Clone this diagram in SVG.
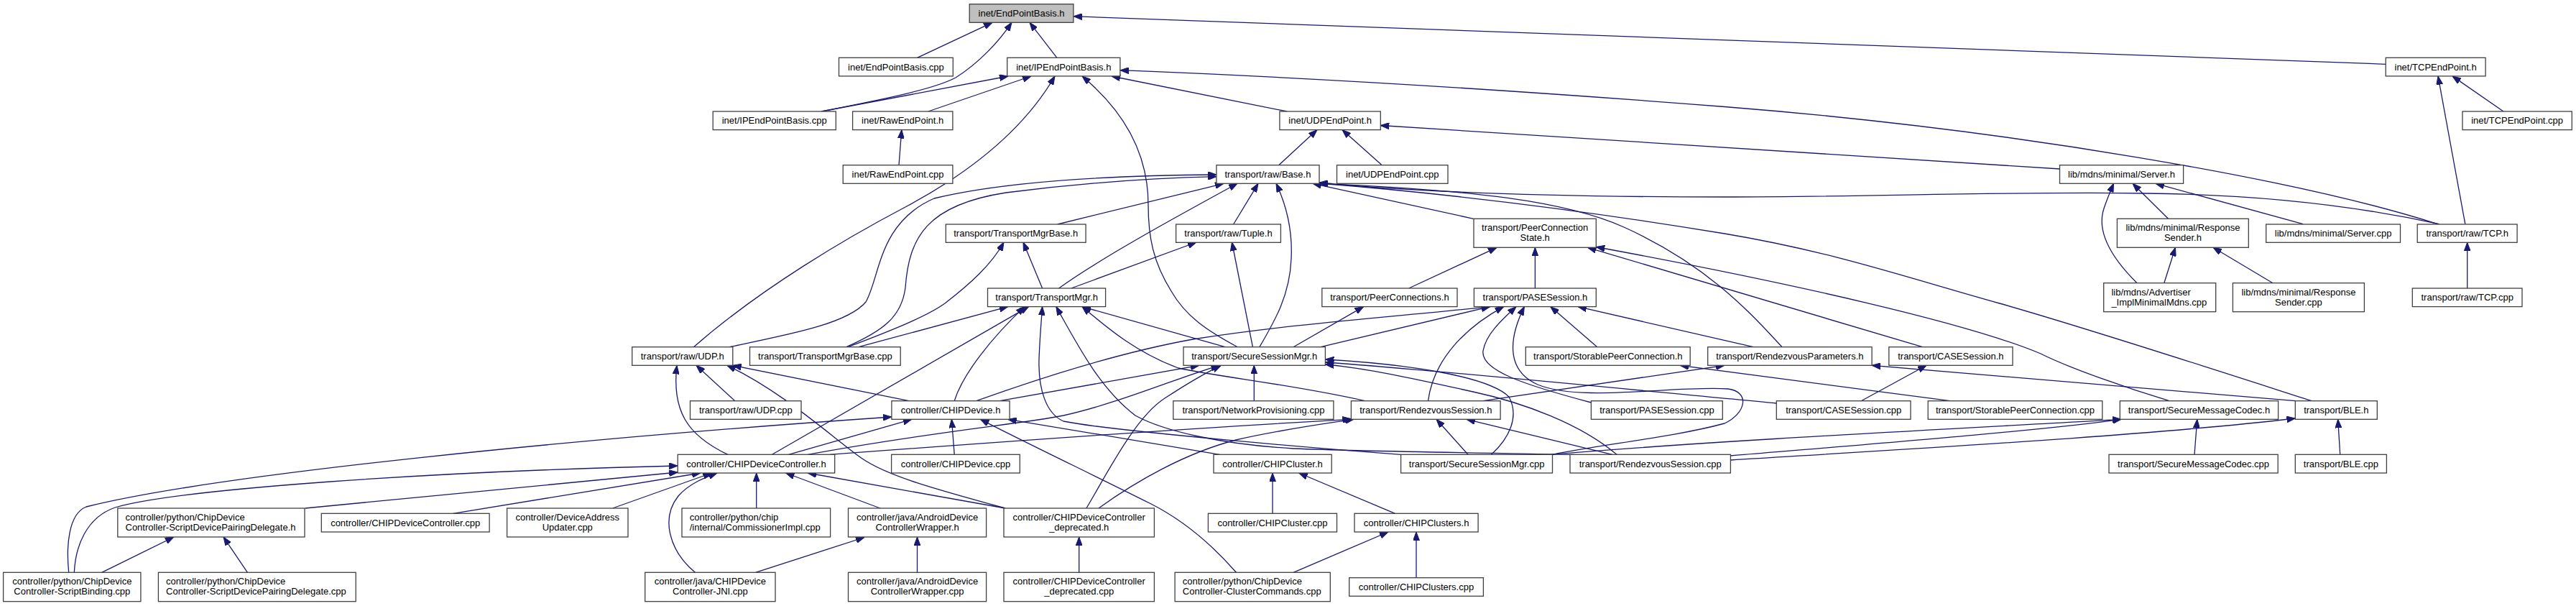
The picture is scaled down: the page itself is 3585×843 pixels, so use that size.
<svg xmlns="http://www.w3.org/2000/svg" width="3585" height="843" viewBox="0 0 3585 843">
<defs>
<style>
.node rect{fill:#ffffff;stroke:#404040;stroke-width:1.3}
.root rect{fill:#bfbfbf}
text{font-family:"Liberation Sans",Arial,Helvetica,sans-serif;font-size:13px;fill:#000000}
.c{text-anchor:middle}
.l{text-anchor:start}
#edges path{fill:none;stroke:#191970;stroke-width:1.3;marker-end:url(#arr)}
</style>
<marker id="arr" viewBox="0 0 12 9" refX="12" refY="4.5" markerWidth="12" markerHeight="9" markerUnits="userSpaceOnUse" orient="auto">
<path d="M0,0 L12,4.5 L0,9 z" fill="#191970" stroke="#191970" stroke-width="1"/>
</marker>
</defs>
<rect x="0" y="0" width="3585" height="843" fill="#ffffff"/>
<g id="edges">
<path d="M1276.5,80.3 L1381,31.3"/>
<path d="M1143.4,155 C1230,138 1300,124 1330,108 C1362,88 1390,58 1408,31.3"/>
<path d="M1143.4,155 L1403,106"/>
<path d="M1470.9,80.3 L1433,31.3"/>
<path d="M3320.2,89.3 L1494,22.7"/>
<path d="M1291.8,155 L1435,106"/>
<path d="M965.4,482.7 C1060,400 1180,330 1260,288 C1350,240 1425,180 1468,106"/>
<path d="M1722.3,482.7 C1680,460 1650,440 1630,405 C1605,365 1598,330 1598,285 C1598,215 1565,155 1506,106"/>
<path d="M1791,155 L1547,106"/>
<path d="M3392.5,311.7 C3200,250 2800,180 2400,148.5 C2100,125 1800,107 1559,97.7"/>
<path d="M1251,229.7 L1254.8,180.6"/>
<path d="M1779.7,229.7 L1833,180.6"/>
<path d="M1923.2,229.7 L1868,180.6"/>
<path d="M2866.5,235 L1921.3,174.5"/>
<path d="M1471.7,312 L1703,255.3"/>
<path d="M1473.6,401 C1530,360 1640,300 1722,255.3"/>
<path d="M1716.6,312 L1751,255.3"/>
<path d="M1752.9,482.7 C1775,445 1795,410 1797,360 C1799,320 1790,285 1776,255.3"/>
<path d="M2050.6,304.3 L1827,255.3"/>
<path d="M3394.5,311.7 C3250,280 3100,270 2985,269 C2800,266 2600,274 2400,274 C2200,274 2000,270 1836,254"/>
<path d="M3217.3,557.7 C3100,520 2900,455 2782.7,422 C2650,385 2550,350 2400,325 C2200,292 2000,268 1836,255"/>
<path d="M2480,482.7 C2440,440 2380,370 2260,316 C2180,280 2050,264 1836,255.3"/>
<path d="M1180,482.7 C1240,460 1290,440 1315,422 C1350,395 1380,368 1397,337"/>
<path d="M1450.6,401 L1424,337"/>
<path d="M1490.8,401 L1665,337"/>
<path d="M1743.4,482.7 L1714.5,337"/>
<path d="M1960.7,401 L2083,344.3"/>
<path d="M2136.4,401 L2136.4,344.3"/>
<path d="M2675.5,482.7 L2209.5,344.3"/>
<path d="M3019,557.7 C2960,540 2880,512 2840,492 C2740,450 2500,395 2221.3,343.5"/>
<path d="M3017.5,304.3 L2968,255.3"/>
<path d="M2974,393.7 C2935,355 2918,320 2928,290 C2932,278 2937,266 2941.5,255.3"/>
<path d="M3205,311.7 L3000,255.3"/>
<path d="M3011.8,393.7 L3027.5,344.3"/>
<path d="M3163,393.7 L3080,344.3"/>
<path d="M3484,155 L3413,105.9"/>
<path d="M3430.8,311.7 L3393,105.9"/>
<path d="M3433.7,401 L3433.7,337.3"/>
<path d="M1022.8,557.7 L969,508.3"/>
<path d="M1013,632.3 C955,605 935,570 942,508.3"/>
<path d="M1265,557.7 L1019.8,508.3"/>
<path d="M1399,707 C1300,680 1235,662 1200,638 C1160,610 1090,545 1012,508.3"/>
<path d="M1195,482.7 L1402.8,426.6"/>
<path d="M1177.8,482.7 C1230,460 1255,440 1260,400 C1265,330 1290,285 1400,268 C1500,255 1600,248 1692.9,245.7"/>
<path d="M1015,482.7 C1100,465 1180,450 1205,420 C1225,385 1222,310 1300,276 C1400,252 1550,244 1692.9,243"/>
<path d="M1328.2,557.7 C1340,520 1380,470 1425.8,426.6"/>
<path d="M1074.5,632.3 L1431.5,426.6"/>
<path d="M1949.6,632.3 C1850,625 1550,600 1480,586 C1455,575 1445,540 1446,500 C1447,470 1449,450 1450.6,426.6"/>
<path d="M2190,632.3 C2050,630 1900,628 1800,624 C1700,618 1620,600 1580,578 C1530,540 1500,480 1469.8,426.6"/>
<path d="M1899.5,557.7 C1800,535 1700,525 1640,512 C1580,490 1540,455 1506,426.6"/>
<path d="M1705,482.7 L1506,426.6"/>
<path d="M1391.3,557.7 L1668.8,508.3"/>
<path d="M1124.3,632.3 C1300,600 1420,590 1480,578 C1560,560 1640,525 1697.4,508.3"/>
<path d="M1511.9,707 C1540,660 1580,580 1621,554 C1650,535 1675,520 1699.4,508.3"/>
<path d="M1745.3,557.7 L1745.3,508.3"/>
<path d="M2075.5,632.3 C2100,610 2115,580 2100,552 C2070,522 1950,506 1844.4,500"/>
<path d="M2472.3,561 C2300,545 2000,515 1844.4,504"/>
<path d="M2250,632.3 C2200,590 2120,560 2050,545 C1960,525 1900,512 1844.4,507"/>
<path d="M1800,482.7 L1897.6,426.6"/>
<path d="M1838,482.7 L2073.6,426.6"/>
<path d="M1358.8,557.7 C1450,525 1560,490 1660,472 C1800,450 1950,440 2073.6,426.6"/>
<path d="M1987.5,557.7 C1995,500 2040,455 2092.7,426.6"/>
<path d="M2214.4,560 C2120,535 2060,515 2064,488 C2068,465 2090,445 2110,426.6"/>
<path d="M2160.5,632.3 C2230,618 2330,608 2400,589 C2430,575 2436,545 2405,541 C2330,536 2200,560 2140,535 C2095,515 2100,470 2121.4,426.6"/>
<path d="M2222.8,482.7 L2157.8,426.6"/>
<path d="M2440,482.7 L2196,426.6"/>
<path d="M2713.8,557.7 L2338,508.3"/>
<path d="M2590.2,557.7 L2681,508.3"/>
<path d="M2064,557.7 L2400,508.3"/>
<path d="M3194.3,557.7 L2605.1,508.3"/>
<path d="M3054,632.3 L3057.8,583.3"/>
<path d="M3256.7,632.3 L3253.7,583.3"/>
<path d="M2408.4,640 C2700,622 3000,605 3194.3,582"/>
<path d="M2408.4,634 C2600,618 2850,598 2952,583.3"/>
<path d="M2158,632.3 C2400,612 2750,595 2952,583.3"/>
<path d="M2243.9,632.3 L2041,583.3"/>
<path d="M2043,632.3 L1999,583.3"/>
<path d="M1155,632.3 C1400,614 1700,593 1880.4,583.3"/>
<path d="M1529,707 C1580,670 1650,630 1720,612 C1780,598 1840,590 1884,583.3"/>
<path d="M1399,707 L1124.3,658"/>
<path d="M1501.7,796.3 L1501.7,747"/>
<path d="M1276.5,796.3 L1276.5,747"/>
<path d="M1051.5,796.3 L1203,747.5"/>
<path d="M1225,707 L1093.6,658"/>
<path d="M1052.7,707 L1052.7,658"/>
<path d="M967.4,796.3 C930,765 920,720 944,690 C960,672 982,664 998,658"/>
<path d="M852.6,707 L990.3,658"/>
<path d="M630.6,714.3 L975,658"/>
<path d="M424.7,707 L943.2,657"/>
<path d="M103.3,796.3 C105,760 120,720 160,706 C250,680 600,656 943.2,648"/>
<path d="M95.7,796.3 C92,760 95,715 120,705 C300,660 800,610 1240.9,580"/>
<path d="M141.6,796.3 L242,747"/>
<path d="M344.4,796.3 L311,747"/>
<path d="M1097.5,632.3 L1268.9,583.3"/>
<path d="M1328.2,632.3 L1324.4,583.3"/>
<path d="M1697.4,632.3 L1402.8,583.3"/>
<path d="M1720.4,796.3 C1680,750 1640,720 1600,700 C1520,660 1420,612 1364.5,583.3"/>
<path d="M1771,714.3 L1771,658"/>
<path d="M1941.6,714.3 L1807.7,658"/>
<path d="M1971,803.7 L1971,740"/>
<path d="M1800,796.3 L1932,740"/>
</g>
<g id="n_epb_h" class="node root"><rect x="1349.2" y="5.7" width="144.7" height="25.6"/><text class="c" x="1421.5" y="23">inet/EndPointBasis.h</text></g>
<g id="n_epb_cpp" class="node"><rect x="1167.5" y="80.3" width="158.8" height="25.6"/><text class="c" x="1246.9" y="97.6">inet/EndPointBasis.cpp</text></g>
<g id="n_ipepb_h" class="node"><rect x="1401.7" y="80.3" width="157.2" height="25.6"/><text class="c" x="1480.3" y="97.6">inet/IPEndPointBasis.h</text></g>
<g id="n_tcpep_h" class="node"><rect x="3320.2" y="80.3" width="138.9" height="25.6"/><text class="c" x="3389.6" y="97.6">inet/TCPEndPoint.h</text></g>
<g id="n_ipepb_cpp" class="node"><rect x="992.2" y="155" width="171.1" height="25.6"/><text class="c" x="1077.7" y="172.3">inet/IPEndPointBasis.cpp</text></g>
<g id="n_rawep_h" class="node"><rect x="1186.6" y="155" width="139.3" height="25.6"/><text class="c" x="1256.2" y="172.3">inet/RawEndPoint.h</text></g>
<g id="n_udpep_h" class="node"><rect x="1780.9" y="155" width="140.4" height="25.6"/><text class="c" x="1851.1" y="172.3">inet/UDPEndPoint.h</text></g>
<g id="n_tcpep_cpp" class="node"><rect x="3427" y="155" width="152.3" height="25.6"/><text class="c" x="3503.1" y="172.3">inet/TCPEndPoint.cpp</text></g>
<g id="n_rawep_cpp" class="node"><rect x="1173.2" y="229.7" width="152.7" height="25.6"/><text class="c" x="1249.5" y="247">inet/RawEndPoint.cpp</text></g>
<g id="n_base_h" class="node"><rect x="1692.9" y="229.7" width="143.1" height="25.6"/><text class="c" x="1764.4" y="247">transport/raw/Base.h</text></g>
<g id="n_udpep_cpp" class="node"><rect x="1860.5" y="229.7" width="154.5" height="25.6"/><text class="c" x="1937.7" y="247">inet/UDPEndPoint.cpp</text></g>
<g id="n_server_h" class="node"><rect x="2866.5" y="229.7" width="172.1" height="25.6"/><text class="c" x="2952.5" y="247">lib/mdns/minimal/Server.h</text></g>
<g id="n_tmb_h" class="node"><rect x="1316.3" y="312" width="194.8" height="25.3"/><text class="c" x="1413.7" y="329.3">transport/TransportMgrBase.h</text></g>
<g id="n_tuple_h" class="node"><rect x="1636.6" y="312" width="145.8" height="25.3"/><text class="c" x="1709.5" y="329.3">transport/raw/Tuple.h</text></g>
<g id="n_pcs_h" class="node"><rect x="2051" y="304.3" width="170.3" height="40"/><text class="c"><tspan x="2136.2" y="321.3">transport/PeerConnection</tspan><tspan x="2136.2" y="335.3">State.h</tspan></text></g>
<g id="n_rs_h" class="node"><rect x="2946.4" y="304.3" width="182.9" height="40"/><text class="c"><tspan x="3037.9" y="321.3">lib/mdns/minimal/Response</tspan><tspan x="3037.9" y="335.3">Sender.h</tspan></text></g>
<g id="n_server_cpp" class="node"><rect x="3153.7" y="312" width="186.8" height="25.3"/><text class="c" x="3247.1" y="329.3">lib/mdns/minimal/Server.cpp</text></g>
<g id="n_tcp_h" class="node"><rect x="3364.2" y="312" width="138.9" height="25.3"/><text class="c" x="3433.7" y="329.3">transport/raw/TCP.h</text></g>
<g id="n_tm_h" class="node"><rect x="1374.5" y="401" width="164.1" height="25.6"/><text class="c" x="1456.6" y="418.3">transport/TransportMgr.h</text></g>
<g id="n_pc_h" class="node"><rect x="1839.8" y="401" width="188.2" height="25.6"/><text class="c" x="1933.9" y="418.3">transport/PeerConnections.h</text></g>
<g id="n_pase_h" class="node"><rect x="2051.4" y="401" width="169.9" height="25.6"/><text class="c" x="2136.4" y="418.3">transport/PASESession.h</text></g>
<g id="n_adv_cpp" class="node"><rect x="2927.7" y="393.7" width="156" height="40"/><text class="l"><tspan x="2938.4" y="410.7">lib/mdns/Advertiser</tspan><tspan x="2938.4" y="424.7">_ImplMinimalMdns.cpp</tspan></text></g>
<g id="n_rs_cpp" class="node"><rect x="3107.4" y="393.7" width="183" height="40"/><text class="c"><tspan x="3198.9" y="410.7">lib/mdns/minimal/Response</tspan><tspan x="3198.9" y="424.7">Sender.cpp</tspan></text></g>
<g id="n_tcp_cpp" class="node"><rect x="3357.3" y="401" width="152.7" height="25.6"/><text class="c" x="3433.7" y="418.3">transport/raw/TCP.cpp</text></g>
<g id="n_udp_h" class="node"><rect x="879.7" y="482.7" width="140.1" height="25.6"/><text class="c" x="949.8" y="500">transport/raw/UDP.h</text></g>
<g id="n_tmb_cpp" class="node"><rect x="1043.5" y="482.7" width="209.7" height="25.6"/><text class="c" x="1148.4" y="500">transport/TransportMgrBase.cpp</text></g>
<g id="n_ssm_h" class="node"><rect x="1647" y="482.7" width="197.4" height="25.6"/><text class="c" x="1745.7" y="500">transport/SecureSessionMgr.h</text></g>
<g id="n_spc_h" class="node"><rect x="2123.3" y="482.7" width="228.9" height="25.6"/><text class="c" x="2237.8" y="500">transport/StorablePeerConnection.h</text></g>
<g id="n_rp_h" class="node"><rect x="2376.7" y="482.7" width="228.4" height="25.6"/><text class="c" x="2490.9" y="500">transport/RendezvousParameters.h</text></g>
<g id="n_case_h" class="node"><rect x="2628.8" y="482.7" width="172.2" height="25.6"/><text class="c" x="2714.9" y="500">transport/CASESession.h</text></g>
<g id="n_udp_cpp" class="node"><rect x="960.5" y="557.7" width="154.5" height="25.6"/><text class="c" x="1037.8" y="575">transport/raw/UDP.cpp</text></g>
<g id="n_dev_h" class="node"><rect x="1240.9" y="557.7" width="164.2" height="25.6"/><text class="c" x="1323" y="575">controller/CHIPDevice.h</text></g>
<g id="n_np_cpp" class="node"><rect x="1632.8" y="557.7" width="223.1" height="25.6"/><text class="c" x="1744.4" y="575">transport/NetworkProvisioning.cpp</text></g>
<g id="n_rzs_h" class="node"><rect x="1880.4" y="557.7" width="207.7" height="25.6"/><text class="c" x="1984.3" y="575">transport/RendezvousSession.h</text></g>
<g id="n_pase_cpp" class="node"><rect x="2214.4" y="557.7" width="182.9" height="25.6"/><text class="c" x="2305.9" y="575">transport/PASESession.cpp</text></g>
<g id="n_case_cpp" class="node"><rect x="2472.3" y="557.7" width="186.7" height="25.6"/><text class="c" x="2565.7" y="575">transport/CASESession.cpp</text></g>
<g id="n_spc_cpp" class="node"><rect x="2683.2" y="557.7" width="242.6" height="25.6"/><text class="c" x="2804.5" y="575">transport/StorablePeerConnection.cpp</text></g>
<g id="n_smc_h" class="node"><rect x="2950.3" y="557.7" width="220.3" height="25.6"/><text class="c" x="3060.5" y="575">transport/SecureMessageCodec.h</text></g>
<g id="n_ble_h" class="node"><rect x="3194.3" y="557.7" width="114" height="25.6"/><text class="c" x="3251.3" y="575">transport/BLE.h</text></g>
<g id="n_dc_h" class="node"><rect x="943.2" y="632.3" width="218.5" height="25.7"/><text class="c" x="1052.5" y="649.6">controller/CHIPDeviceController.h</text></g>
<g id="n_dev_cpp" class="node"><rect x="1240.6" y="632.3" width="178.7" height="25.7"/><text class="c" x="1330" y="649.6">controller/CHIPDevice.cpp</text></g>
<g id="n_cl_h" class="node"><rect x="1689" y="632.3" width="164.2" height="25.7"/><text class="c" x="1771.1" y="649.6">controller/CHIPCluster.h</text></g>
<g id="n_ssm_cpp" class="node"><rect x="1949.6" y="632.3" width="210.9" height="25.7"/><text class="c" x="2055.1" y="649.6">transport/SecureSessionMgr.cpp</text></g>
<g id="n_rzs_cpp" class="node"><rect x="2185" y="632.3" width="223.4" height="25.7"/><text class="c" x="2296.7" y="649.6">transport/RendezvousSession.cpp</text></g>
<g id="n_smc_cpp" class="node"><rect x="2935" y="632.3" width="235.2" height="25.7"/><text class="c" x="3052.6" y="649.6">transport/SecureMessageCodec.cpp</text></g>
<g id="n_ble_cpp" class="node"><rect x="3194.3" y="632.3" width="127.1" height="25.7"/><text class="c" x="3257.9" y="649.6">transport/BLE.cpp</text></g>
<g id="n_spd_h" class="node"><rect x="163.8" y="707" width="260.2" height="40"/><text class="l"><tspan x="174.5" y="724">controller/python/ChipDevice</tspan><tspan x="174.5" y="738">Controller-ScriptDevicePairingDelegate.h</tspan></text></g>
<g id="n_dc_cpp" class="node"><rect x="447.3" y="714.3" width="233.8" height="25.7"/><text class="c" x="564.2" y="731.6">controller/CHIPDeviceController.cpp</text></g>
<g id="n_dau_cpp" class="node"><rect x="705.6" y="707" width="168.4" height="40"/><text class="c"><tspan x="789.8" y="724">controller/DeviceAddress</tspan><tspan x="789.8" y="738">Updater.cpp</tspan></text></g>
<g id="n_ci_cpp" class="node"><rect x="949" y="707" width="206.6" height="40"/><text class="l"><tspan x="959.7" y="724">controller/python/chip</tspan><tspan x="959.7" y="738">/internal/CommissionerImpl.cpp</tspan></text></g>
<g id="n_adcw_h" class="node"><rect x="1180.5" y="707" width="192.1" height="40"/><text class="c"><tspan x="1276.6" y="724">controller/java/AndroidDevice</tspan><tspan x="1276.6" y="738">ControllerWrapper.h</tspan></text></g>
<g id="n_dcd_h" class="node"><rect x="1397" y="707" width="209.4" height="40"/><text class="c"><tspan x="1501.7" y="724">controller/CHIPDeviceController</tspan><tspan x="1501.7" y="738">_deprecated.h</tspan></text></g>
<g id="n_cl_cpp" class="node"><rect x="1681.4" y="714.3" width="179.1" height="25.7"/><text class="c" x="1771" y="731.6">controller/CHIPCluster.cpp</text></g>
<g id="n_cls_h" class="node"><rect x="1885" y="714.3" width="172.1" height="25.7"/><text class="c" x="1971.1" y="731.6">controller/CHIPClusters.h</text></g>
<g id="n_sb_cpp" class="node"><rect x="4.6" y="796.3" width="191.3" height="40.4"/><text class="c"><tspan x="100.3" y="813.3">controller/python/ChipDevice</tspan><tspan x="100.3" y="827.3">Controller-ScriptBinding.cpp</tspan></text></g>
<g id="n_spd_cpp" class="node"><rect x="220.4" y="796.3" width="274.8" height="40.4"/><text class="l"><tspan x="231.1" y="813.3">controller/python/ChipDevice</tspan><tspan x="231.1" y="827.3">Controller-ScriptDevicePairingDelegate.cpp</tspan></text></g>
<g id="n_jni_cpp" class="node"><rect x="897.7" y="796.3" width="181.3" height="40.4"/><text class="c"><tspan x="988.4" y="813.3">controller/java/CHIPDevice</tspan><tspan x="988.4" y="827.3">Controller-JNI.cpp</tspan></text></g>
<g id="n_adcw_cpp" class="node"><rect x="1180.5" y="796.3" width="192.1" height="40.4"/><text class="c"><tspan x="1276.6" y="813.3">controller/java/AndroidDevice</tspan><tspan x="1276.6" y="827.3">ControllerWrapper.cpp</tspan></text></g>
<g id="n_dcd_cpp" class="node"><rect x="1397" y="796.3" width="209.4" height="40.4"/><text class="c"><tspan x="1501.7" y="813.3">controller/CHIPDeviceController</tspan><tspan x="1501.7" y="827.3">_deprecated.cpp</tspan></text></g>
<g id="n_cc_cpp" class="node"><rect x="1635.1" y="796.3" width="216.2" height="40.4"/><text class="l"><tspan x="1645.8" y="813.3">controller/python/ChipDevice</tspan><tspan x="1645.8" y="827.3">Controller-ClusterCommands.cpp</tspan></text></g>
<g id="n_cls_cpp" class="node"><rect x="1877.7" y="803.7" width="186.7" height="25.6"/><text class="c" x="1971" y="821">controller/CHIPClusters.cpp</text></g>
</svg>
